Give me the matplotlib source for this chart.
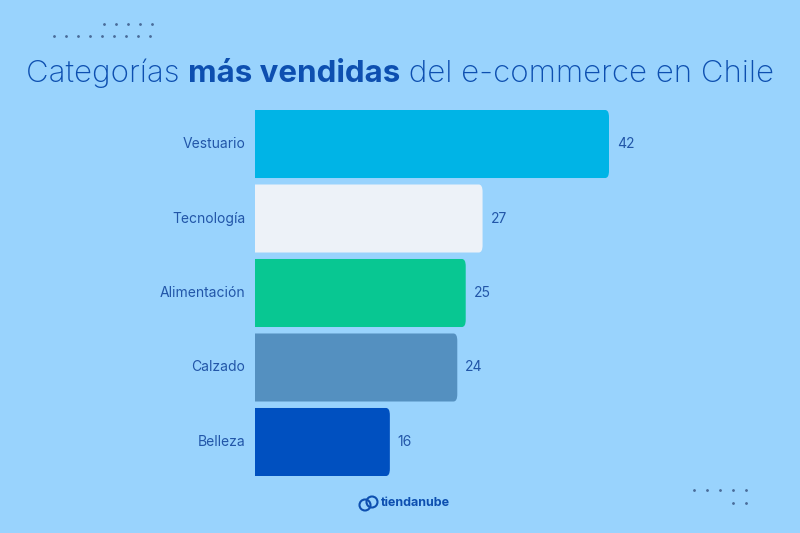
import matplotlib.pyplot as plt
from matplotlib.patches import Ellipse, FancyBboxPatch

categorias = ['Vestuario', 'Tecnología', 'Alimentación', 'Calzado', 'Belleza']
valores = [42, 27, 25, 24, 16]
colores = ['#00B4E6', '#EDF2F8', '#08C792', '#5490C0', '#0050C0']

bg = '#99D3FD'
azul = '#0D4FB0'
texto = '#2256A8'

plt.rcParams['font.family'] = ['Inter', 'DejaVu Sans']

fig = plt.figure(figsize=(8, 5.33), dpi=100)
fig.patch.set_facecolor(bg)

ax = fig.add_axes([255 / 800, 1 - 476 / 533, 354 / 800, 366 / 533])
ax.set_facecolor(bg)
ypos = list(range(len(categorias)))
alto = 0.913

for y, v, c in zip(ypos, valores, colores):
    # barras con esquinas redondeadas a la derecha
    ax.add_patch(FancyBboxPatch((-2, y - alto / 2), v + 2, alto,
                                boxstyle='round,pad=0,rounding_size=0.45',
                                mutation_aspect=1 / 0.51 * 0.11,
                                facecolor=c, edgecolor='none', clip_on=True))
    ax.text(v + 0.95, y, str(v), va='center', ha='left', fontsize=10,
            color=texto, clip_on=False)
    ax.text(-1.15, y, categorias[y], va='center', ha='right', fontsize=10,
            color=texto, clip_on=False)

ax.set_xlim(0, 42)
ax.set_ylim(len(categorias) - 1 + alto / 2, -alto / 2)
ax.axis('off')

# titulo en tres partes
partes = [('Categorías ', 'light'), ('más vendidas', 'bold'),
          (' del e-commerce en Chile', 'light')]
fig.canvas.draw()
r = fig.canvas.get_renderer()
anchos = []
objs = []
for s, w in partes:
    t = fig.text(0, 1 - 82 / 533, s, fontsize=22.5, fontweight=w, color=azul,
                 va='baseline', ha='left')
    objs.append(t)
    anchos.append(t.get_window_extent(r).width)
x0 = (fig.bbox.width - sum(anchos)) / 2
for t, a in zip(objs, anchos):
    t.set_x(x0 / fig.bbox.width)
    x0 += a

# puntos decorativos
for xs, y in [(range(104, 160, 12), 24), (range(54, 160, 12), 36),
              (range(694, 750, 13), 490), (range(733, 750, 13), 503)]:
    fig.add_artist(plt.Line2D([x / 800 for x in xs], [1 - y / 533] * len(xs),
                              ls='none', marker='o', ms=1.0, color='#4A6C99',
                              transform=fig.transFigure))

# logo
fig.text(381 / 800, 1 - 503 / 533, 'tiendanube', fontsize=9, fontweight='bold',
         color=azul, ha='left', va='center')
for cx, cy in [(365, 505), (372, 502)]:
    fig.add_artist(Ellipse((cx / 800, 1 - cy / 533), 11 / 800, 11 / 533, fill=False,
                           lw=1.5, edgecolor=azul, transform=fig.transFigure))

fig.savefig('out.png', dpi=100, facecolor=bg)
